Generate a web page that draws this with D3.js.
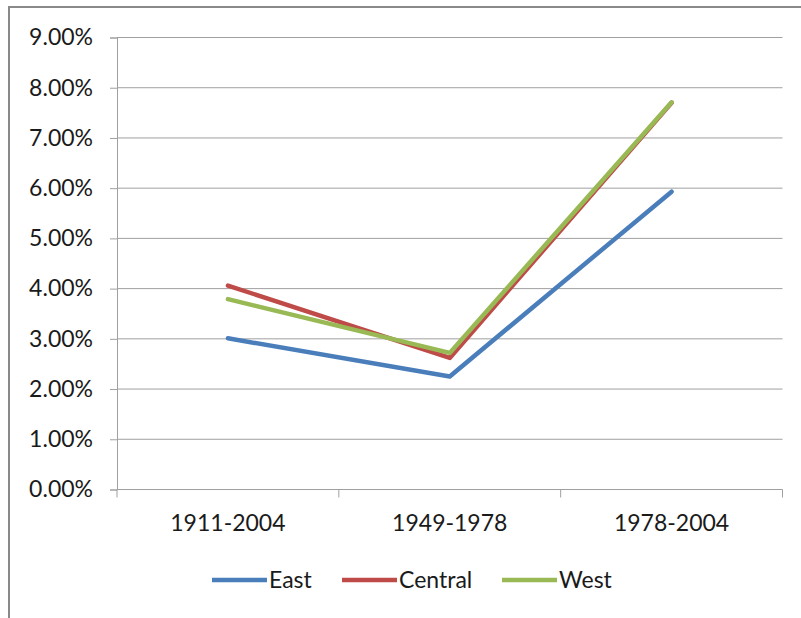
<!DOCTYPE html>
<html>
<head>
<meta charset="UTF-8">
<script src="https://d3js.org/d3.v7.min.js"></script>
<style>
  body { margin: 0; background: #fff; }
  text { font-family: Lato, "Open Sans", sans-serif; fill: #1a1a1a; }
</style>
</head>
<body>
<svg></svg>
<script>
var width = 801, height = 618;

// data
var periods = ["1911-2004", "1949-1978", "1978-2004"];
var seriesNames = ["East", "Central", "West"];
var eastVals = [0.0301, 0.0225, 0.0593];
var centralVals = [0.0406, 0.0262, 0.0770];
var westVals = [0.0379, 0.0272, 0.0771];
var yTicks = [0, 0.01, 0.02, 0.03, 0.04, 0.05, 0.06, 0.07, 0.08, 0.09];
var colors = ["#4a7ebb", "#be4b48", "#98b954"];

var series = [eastVals, centralVals, westVals].map(function(v, i) {
  return { name: seriesNames[i], color: colors[i], values: v };
});

var plotLeft = 117, plotRight = 782.5, plotTop = 37.5, plotBottom = 489.5;

var svg = d3.select("svg").attr("width", width).attr("height", height);

// outer frame
svg.append("rect")
  .attr("x", 9).attr("y", 7)
  .attr("width", width).attr("height", height)
  .attr("fill", "none").attr("stroke", "#898989").attr("stroke-width", 2);

var x = d3.scaleBand().domain(periods).range([plotLeft, plotRight]);
var y = d3.scaleLinear().domain([0, 0.09]).range([plotBottom, plotTop]);

// gridlines
svg.append("g").selectAll("line")
  .data(yTicks.slice(1))
  .enter().append("line")
  .attr("x1", plotLeft).attr("x2", plotRight)
  .attr("y1", d => y(d)).attr("y2", d => y(d))
  .attr("stroke", "#a0a0a0").attr("stroke-width", 1);

// y axis
var yAxis = svg.append("g")
  .attr("transform", "translate(" + plotLeft + ",0)")
  .call(d3.axisLeft(y).tickValues(yTicks).tickFormat(d3.format(".2%")).tickSize(7).tickPadding(17));
yAxis.select(".domain").attr("stroke", "#a0a0a0");
yAxis.selectAll(".tick line").attr("stroke", "#a0a0a0");
yAxis.selectAll("text").style("font-size", "23px").style("font-family", "Lato, sans-serif").attr("fill", "#1a1a1a");

// x axis line with bracket ticks between categories
svg.append("line")
  .attr("x1", plotLeft).attr("x2", plotRight)
  .attr("y1", plotBottom).attr("y2", plotBottom)
  .attr("stroke", "#a0a0a0");
var edges = periods.map(p => x(p)).concat([plotRight]);
svg.append("g").selectAll("line")
  .data(edges).enter().append("line")
  .attr("x1", d => d).attr("x2", d => d)
  .attr("y1", plotBottom).attr("y2", plotBottom + 8)
  .attr("stroke", "#a0a0a0");

svg.append("g").selectAll("text")
  .data(periods).enter().append("text")
  .attr("x", d => x(d) + x.bandwidth() / 2)
  .attr("y", 531)
  .attr("text-anchor", "middle")
  .style("font-size", "23px")
  .text(d => d);

// lines
var line = d3.line()
  .x((d, i) => x(periods[i]) + x.bandwidth() / 2)
  .y(d => y(d));

svg.append("g").selectAll("path")
  .data(series).enter().append("path")
  .attr("d", d => line(d.values))
  .attr("fill", "none")
  .attr("stroke", d => d.color)
  .attr("stroke-width", 4.5)
  .attr("stroke-linecap", "round")
  .attr("stroke-linejoin", "round");

// legend
var legendX = [212, 342, 502];
var legend = svg.append("g").selectAll("g")
  .data(series).enter().append("g")
  .attr("transform", (d, i) => "translate(" + legendX[i] + ",580)");
legend.append("line")
  .attr("x1", 0).attr("x2", 55)
  .attr("stroke", d => d.color).attr("stroke-width", 4.5);
legend.append("text")
  .attr("x", 57).attr("y", 8)
  .style("font-size", "23px")
  .text(d => d.name);
</script>
</body>
</html>
